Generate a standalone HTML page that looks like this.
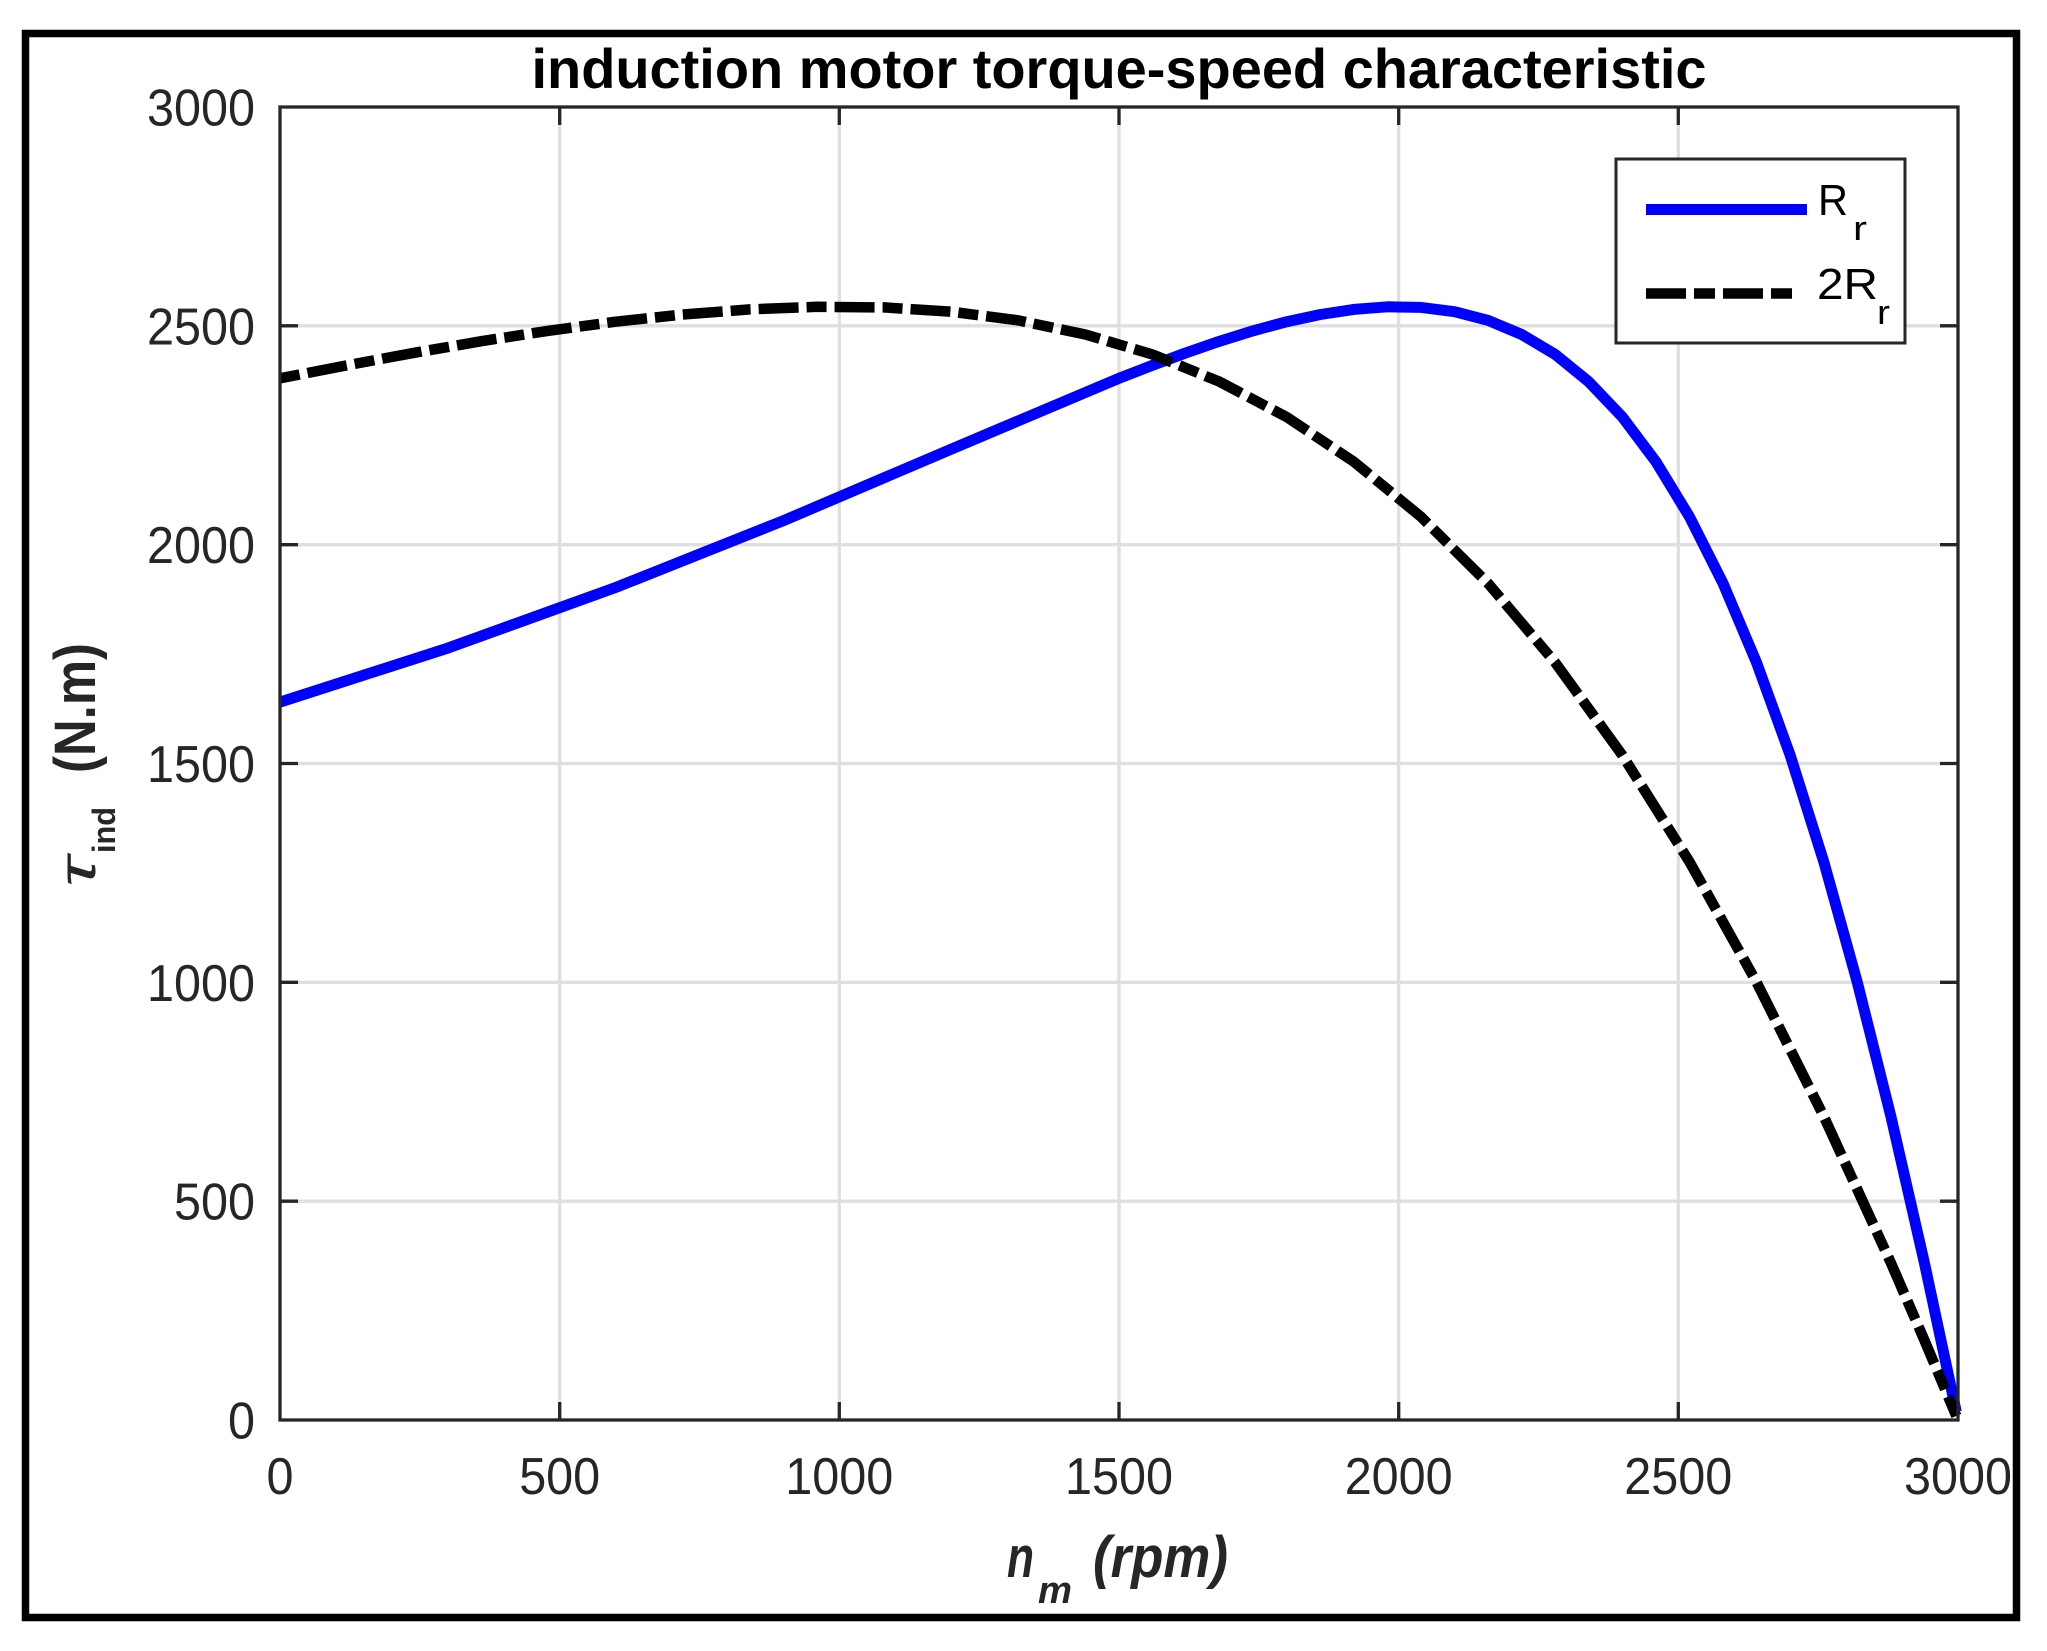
<!DOCTYPE html>
<html>
<head>
<meta charset="utf-8">
<style>
  html, body { margin: 0; padding: 0; background: #fff; }
  svg { display: block; }
  text { font-family: "Liberation Sans", Arial, sans-serif; }
</style>
</head>
<body>
<svg width="2047" height="1651" viewBox="0 0 2047 1651" xmlns="http://www.w3.org/2000/svg">
  <rect x="0" y="0" width="2047" height="1651" fill="#fff"/>
  <!-- outer frame -->
  <rect x="25.5" y="33.5" width="1991" height="1584" fill="none" stroke="#000" stroke-width="7.5"/>

  <!-- plot background -->
  <rect x="280" y="107" width="1678" height="1313" fill="#fff"/>

  <!-- grid -->
  <g stroke="#dfdfdf" stroke-width="3.3">
    <line x1="559.7" y1="107" x2="559.7" y2="1420"/>
    <line x1="839.3" y1="107" x2="839.3" y2="1420"/>
    <line x1="1119" y1="107" x2="1119" y2="1420"/>
    <line x1="1398.7" y1="107" x2="1398.7" y2="1420"/>
    <line x1="1678.3" y1="107" x2="1678.3" y2="1420"/>
    <line x1="280" y1="1201.2" x2="1958" y2="1201.2"/>
    <line x1="280" y1="982.3" x2="1958" y2="982.3"/>
    <line x1="280" y1="763.5" x2="1958" y2="763.5"/>
    <line x1="280" y1="544.7" x2="1958" y2="544.7"/>
    <line x1="280" y1="325.8" x2="1958" y2="325.8"/>
  </g>

  <!-- ticks -->
  <g stroke="#262626" stroke-width="3.3">
    <line x1="559.7" y1="1420" x2="559.7" y2="1402"/>
    <line x1="839.3" y1="1420" x2="839.3" y2="1402"/>
    <line x1="1119" y1="1420" x2="1119" y2="1402"/>
    <line x1="1398.7" y1="1420" x2="1398.7" y2="1402"/>
    <line x1="1678.3" y1="1420" x2="1678.3" y2="1402"/>
    <line x1="559.7" y1="107" x2="559.7" y2="125"/>
    <line x1="839.3" y1="107" x2="839.3" y2="125"/>
    <line x1="1119" y1="107" x2="1119" y2="125"/>
    <line x1="1398.7" y1="107" x2="1398.7" y2="125"/>
    <line x1="1678.3" y1="107" x2="1678.3" y2="125"/>
    <line x1="280" y1="1201.2" x2="298" y2="1201.2"/>
    <line x1="280" y1="982.3" x2="298" y2="982.3"/>
    <line x1="280" y1="763.5" x2="298" y2="763.5"/>
    <line x1="280" y1="544.7" x2="298" y2="544.7"/>
    <line x1="280" y1="325.8" x2="298" y2="325.8"/>
    <line x1="1958" y1="1201.2" x2="1940" y2="1201.2"/>
    <line x1="1958" y1="982.3" x2="1940" y2="982.3"/>
    <line x1="1958" y1="763.5" x2="1940" y2="763.5"/>
    <line x1="1958" y1="544.7" x2="1940" y2="544.7"/>
    <line x1="1958" y1="325.8" x2="1940" y2="325.8"/>
  </g>

  <!-- curves -->
  <polyline fill="none" stroke="#0000ff" stroke-width="11" stroke-linejoin="round"
    points="280,702.1 447.8,648.1 615.6,587.5 783.4,520.7 951.2,449.2 1119,378.3 1152.6,365.3 1186.1,352.8 1219.7,341.2 1253.2,330.8 1286.8,321.7 1320.4,314.5 1353.9,309.4 1387.5,306.8 1421,307.4 1454.6,311.7 1488.2,320.4 1521.7,334.5 1555.3,354.5 1588.8,381.8 1622.4,417.1 1656,461.8 1689.5,516.8 1723.1,583.5 1756.6,662.7 1790.2,755.3 1823.8,861.8 1857.3,982.3 1890.9,1116.4 1924.4,1262.9 1956.3,1411.9"/>
  <polyline fill="none" stroke="#000" stroke-width="10.5" stroke-linejoin="round"
    stroke-dasharray="40 8 20 8" stroke-dashoffset="48"
    points="280,378.3 347.1,365.3 414.2,352.8 481.4,341.2 548.5,330.8 615.6,321.7 682.7,314.5 749.8,309.4 817,306.8 884.1,307.4 951.2,311.7 1018.3,320.4 1085.4,334.5 1152.6,354.5 1219.7,381.8 1286.8,417.1 1353.9,461.8 1421,516.8 1488.2,583.5 1555.3,662.7 1622.4,755.3 1689.5,861.8 1756.6,982.3 1823.8,1116.4 1890.9,1262.9 1924.4,1340.2 1956.3,1416"/>

  <!-- axes box -->
  <rect x="280" y="107" width="1678" height="1313" fill="none" stroke="#262626" stroke-width="3.3"/>

  <!-- y tick labels -->
  <g fill="#262626" font-size="52" text-anchor="end">
    <text x="255" y="1438.5" textLength="27" lengthAdjust="spacingAndGlyphs">0</text>
    <text x="255" y="1219.7" textLength="81" lengthAdjust="spacingAndGlyphs">500</text>
    <text x="255" y="1000.8" textLength="108" lengthAdjust="spacingAndGlyphs">1000</text>
    <text x="255" y="782" textLength="108" lengthAdjust="spacingAndGlyphs">1500</text>
    <text x="255" y="563.2" textLength="108" lengthAdjust="spacingAndGlyphs">2000</text>
    <text x="255" y="344.3" textLength="108" lengthAdjust="spacingAndGlyphs">2500</text>
    <text x="255" y="125.5" textLength="108" lengthAdjust="spacingAndGlyphs">3000</text>
  </g>

  <!-- x tick labels -->
  <g fill="#262626" font-size="52" text-anchor="middle">
    <text x="280" y="1494" textLength="27" lengthAdjust="spacingAndGlyphs">0</text>
    <text x="559.7" y="1494" textLength="81" lengthAdjust="spacingAndGlyphs">500</text>
    <text x="839.3" y="1494" textLength="108" lengthAdjust="spacingAndGlyphs">1000</text>
    <text x="1119" y="1494" textLength="108" lengthAdjust="spacingAndGlyphs">1500</text>
    <text x="1398.7" y="1494" textLength="108" lengthAdjust="spacingAndGlyphs">2000</text>
    <text x="1678.3" y="1494" textLength="108" lengthAdjust="spacingAndGlyphs">2500</text>
    <text x="1958" y="1494" textLength="108" lengthAdjust="spacingAndGlyphs">3000</text>
  </g>

  <!-- title -->
  <text x="1119" y="88" font-size="56" font-weight="bold" fill="#000" text-anchor="middle" textLength="1175" lengthAdjust="spacingAndGlyphs">induction motor torque-speed characteristic</text>

  <!-- x label -->
  <g fill="#262626" font-weight="bold" font-style="italic">
    <text x="1007" y="1577" font-size="58" textLength="27" lengthAdjust="spacingAndGlyphs">n</text>
    <text x="1038" y="1603" font-size="38" textLength="34" lengthAdjust="spacingAndGlyphs">m</text>
    <text x="1093" y="1577" font-size="58" textLength="135" lengthAdjust="spacingAndGlyphs">(rpm)</text>
  </g>

  <!-- y label -->
  <g transform="translate(95,887) rotate(-90)" fill="#262626">
    <text x="0" y="0" font-size="52" font-style="italic" textLength="30" lengthAdjust="spacingAndGlyphs">τ</text>
    <text x="34" y="20" font-size="32" font-weight="bold" textLength="46" lengthAdjust="spacingAndGlyphs">ind</text>
    <text x="114" y="0" font-size="58" font-weight="bold" textLength="130" lengthAdjust="spacingAndGlyphs">(N.m)</text>
  </g>

  <!-- legend -->
  <rect x="1616" y="159" width="289" height="184" fill="#fff" stroke="#262626" stroke-width="3"/>
  <line x1="1646" y1="209.5" x2="1807" y2="209.5" stroke="#0000ff" stroke-width="11"/>
  <line x1="1646" y1="293.5" x2="1793" y2="293.5" stroke="#000" stroke-width="10.5" stroke-dasharray="40 8 21 8"/>
  <g fill="#000">
    <text x="1818" y="215" font-size="44" textLength="30" lengthAdjust="spacingAndGlyphs">R</text>
    <text x="1853" y="240" font-size="34" textLength="14" lengthAdjust="spacingAndGlyphs">r</text>
    <text x="1817" y="299" font-size="44" textLength="61" lengthAdjust="spacingAndGlyphs">2R</text>
    <text x="1877" y="324" font-size="34" textLength="13" lengthAdjust="spacingAndGlyphs">r</text>
  </g>
</svg>
</body>
</html>
